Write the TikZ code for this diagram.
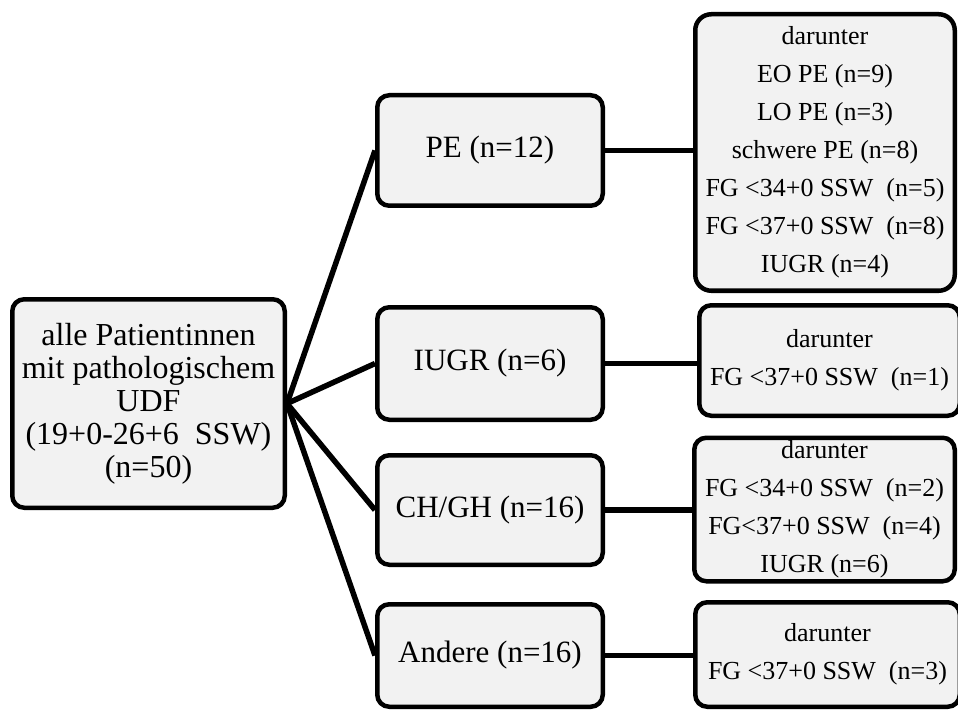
\documentclass[tikz,border=0pt]{standalone}
\usepackage{fontspec}
\setmainfont{Liberation Serif}
\usetikzlibrary{backgrounds}
\definecolor{boxgray}{HTML}{F2F2F2}
\begin{document}
\begin{tikzpicture}[x=1pt,y=-1pt,
  box/.style={draw=black, line width=4.5pt, fill=boxgray, rounded corners=12pt, inner sep=0pt, align=center},
  bigtext/.style={font=\fontsize{32}{33}\selectfont},
  midtext/.style={font=\fontsize{31}{33}\selectfont},
  smalltext/.style={font=\fontsize{26}{38}\selectfont},
  link/.style={line width=5.5pt, draw=black}]
\useasboundingbox (0,0) rectangle (958,711);
\node[box, bigtext, minimum width=272.5pt, minimum height=208.5pt] (left) at (148.5,403.5)
  {alle Patientinnen\\mit pathologischem\\UDF\\(19+0-26+6\ \ SSW)\\(n=50)};
\node[box, midtext, minimum width=225.5pt, minimum height=110.5pt] (pe) at (490,150.5) {PE (n=12)};
\node[box, midtext, minimum width=225.5pt, minimum height=112.5pt] (iugr) at (490,363.5) {IUGR (n=6)};
\node[box, midtext, minimum width=225.5pt, minimum height=109.5pt] (ch) at (490,510) {CH/GH (n=16)};
\node[box, midtext, minimum width=225.5pt, minimum height=102.5pt] (andere) at (490,655.5) {Andere (n=16)};
\node[box, smalltext, rounded corners=16pt, minimum width=259.5pt, minimum height=276.5pt] (r1) at (825,152.5)
  {darunter\\EO PE (n=9)\\LO PE (n=3)\\schwere PE (n=8)\\FG <34+0 SSW\ \ (n=5)\\FG <37+0 SSW\ \ (n=8)\\IUGR (n=4)};
\node[box, smalltext, minimum width=260.5pt, minimum height=110.5pt] (r2) at (829.5,360.5)
  {darunter\\FG <37+0 SSW\ \ (n=1)};
\node[box, smalltext, minimum width=260.5pt, minimum height=143.5pt] (r3) at (824.5,509.5)
  {darunter\\FG <34+0 SSW\ \ (n=2)\\FG<37+0 SSW\ \ (n=4)\\IUGR (n=6)};
\node[box, smalltext, minimum width=264.5pt, minimum height=104.5pt] (r4) at (827.5,654.5)
  {darunter\\FG <37+0 SSW\ \ (n=3)};
\begin{scope}[on background layer]
\draw[link] (left.east) -- (pe.west);
\draw[link] (left.east) -- (iugr.west);
\draw[link] (left.east) -- (ch.west);
\draw[link] (left.east) -- (andere.west);
\draw[link] (pe.east) -- (pe.east -| r1.west);
\draw[link] (iugr.east) -- (iugr.east -| r2.west);
\draw[link] (ch.east) -- (ch.east -| r3.west);
\draw[link] (andere.east) -- (andere.east -| r4.west);
\end{scope}
\end{tikzpicture}
\end{document}
